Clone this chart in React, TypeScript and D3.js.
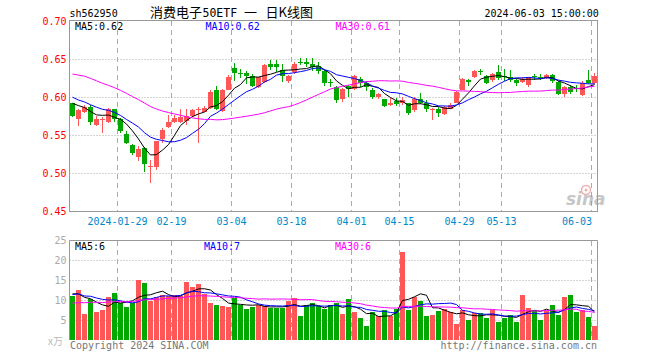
import React from "react";
import * as d3 from "d3";

// ---- data ----
const dates = [
  "2024-01-17","2024-01-18","2024-01-19","2024-01-22","2024-01-23","2024-01-24","2024-01-25","2024-01-26",
  "2024-01-29","2024-01-30","2024-01-31","2024-02-01","2024-02-02","2024-02-05","2024-02-06","2024-02-07","2024-02-08",
  "2024-02-19","2024-02-20","2024-02-21","2024-02-22","2024-02-23","2024-02-26","2024-02-27","2024-02-28","2024-02-29","2024-03-01",
  "2024-03-04","2024-03-05","2024-03-06","2024-03-07","2024-03-08","2024-03-11","2024-03-12","2024-03-13","2024-03-14","2024-03-15",
  "2024-03-18","2024-03-19","2024-03-20","2024-03-21","2024-03-22","2024-03-25","2024-03-26","2024-03-27","2024-03-28","2024-03-29",
  "2024-04-01","2024-04-02","2024-04-03","2024-04-08","2024-04-09","2024-04-10","2024-04-11","2024-04-12",
  "2024-04-15","2024-04-16","2024-04-17","2024-04-18","2024-04-19","2024-04-22","2024-04-23","2024-04-24","2024-04-25","2024-04-26",
  "2024-04-29","2024-04-30","2024-05-06","2024-05-07","2024-05-08","2024-05-09","2024-05-10",
  "2024-05-13","2024-05-14","2024-05-15","2024-05-16","2024-05-17","2024-05-20","2024-05-21","2024-05-22","2024-05-23","2024-05-24",
  "2024-05-27","2024-05-28","2024-05-29","2024-05-30","2024-05-31","2024-06-03",
];

const opens = [
  0.592,0.572,0.580,0.587,0.564,0.571,0.567,0.584,0.571,0.552,0.537,0.522,0.533,0.508,0.508,0.545,0.561,
  0.567,0.568,0.569,0.575,0.584,0.581,0.586,0.609,0.582,0.610,0.638,0.632,0.632,0.628,0.614,0.620,0.644,
  0.643,0.636,0.621,0.633,0.646,0.646,0.644,0.641,0.634,0.620,0.614,0.598,0.615,0.611,0.624,0.619,0.610,
  0.600,0.597,0.590,0.595,0.593,0.592,0.583,0.598,0.592,0.583,0.585,0.578,0.585,0.593,0.610,0.623,0.626,
  0.635,0.628,0.622,0.633,0.628,0.626,0.623,0.620,0.616,0.628,0.626,0.625,0.629,0.620,0.604,0.614,0.612,
  0.603,0.622,0.619,
];
const highs = [
  0.593,0.584,0.590,0.590,0.575,0.574,0.586,0.585,0.573,0.556,0.539,0.536,0.535,0.517,0.543,0.559,0.577,
  0.577,0.584,0.584,0.585,0.587,0.589,0.609,0.615,0.611,0.629,0.645,0.637,0.635,0.631,0.627,0.643,0.649,
  0.649,0.644,0.629,0.646,0.652,0.651,0.651,0.646,0.636,0.624,0.615,0.612,0.616,0.629,0.626,0.621,0.612,
  0.606,0.598,0.599,0.599,0.600,0.593,0.600,0.605,0.596,0.586,0.587,0.589,0.592,0.608,0.625,0.624,0.636,
  0.637,0.629,0.632,0.642,0.637,0.636,0.624,0.626,0.627,0.630,0.630,0.631,0.630,0.621,0.615,0.616,0.616,
  0.621,0.636,0.632,
];
const lows = [
  0.574,0.562,0.579,0.563,0.562,0.553,0.566,0.568,0.553,0.538,0.524,0.516,0.502,0.488,0.504,0.540,0.560,
  0.566,0.566,0.563,0.574,0.540,0.580,0.584,0.583,0.581,0.609,0.621,0.625,0.617,0.613,0.612,0.619,0.636,
  0.633,0.620,0.618,0.631,0.642,0.639,0.635,0.631,0.615,0.613,0.593,0.594,0.600,0.610,0.613,0.608,0.597,
  0.597,0.587,0.588,0.589,0.590,0.577,0.580,0.591,0.580,0.570,0.574,0.576,0.584,0.592,0.609,0.615,0.625,
  0.629,0.617,0.620,0.623,0.621,0.620,0.615,0.618,0.614,0.623,0.623,0.624,0.619,0.603,0.600,0.604,0.607,
  0.601,0.617,0.617,
];
const closes = [
  0.575,0.583,0.587,0.568,0.571,0.572,0.585,0.572,0.555,0.540,0.527,0.532,0.512,0.510,0.542,0.557,0.568,
  0.573,0.574,0.575,0.583,0.585,0.586,0.607,0.584,0.609,0.627,0.632,0.631,0.628,0.615,0.626,0.642,0.640,
  0.640,0.628,0.628,0.644,0.645,0.643,0.640,0.634,0.618,0.619,0.596,0.611,0.611,0.628,0.619,0.613,0.600,
  0.604,0.588,0.593,0.591,0.596,0.579,0.598,0.593,0.585,0.584,0.579,0.587,0.590,0.607,0.624,0.620,0.634,
  0.634,0.619,0.630,0.625,0.627,0.623,0.618,0.624,0.626,0.627,0.625,0.629,0.621,0.604,0.614,0.607,0.611,
  0.619,0.618,0.628,
];
// volumes in 万
const volumes = [
  11.0,12.5,6.6,10.3,7.1,7.6,10.8,11.7,9.3,8.2,9.3,15.2,14.2,9.9,10.8,11.2,11.0,11.4,11.0,14.5,13.3,14.0,
  11.6,9.4,8.7,8.5,8.2,10.6,8.8,7.9,8.2,8.8,8.5,8.1,8.1,8.1,9.7,10.6,6.0,8.9,9.2,8.5,7.8,8.9,
  9.2,6.6,10.2,7.1,5.6,3.6,7.1,6.1,7.6,6.0,7.8,22.1,7.6,10.8,9.7,6.0,6.4,7.4,7.9,7.1,4.1,7.6,5.0,6.8,
  6.8,5.5,7.5,4.5,5.5,6.4,4.5,11.2,8.0,7.2,5.1,7.2,8.7,6.4,10.9,11.2,7.0,7.6,5.7,3.6,
];
// sessions before the visible window (not drawn), estimated from where the MA lines start
const priorCloses = [
  0.625,0.630,0.655,0.665,0.670,0.668,0.662,0.660,0.658,0.655,0.652,0.648,0.645,0.640,0.636,0.630,0.625,
  0.628,0.632,0.628,0.620,0.612,0.605,0.603,0.600,0.598,0.600,0.594,0.593,
];
const priorVolumes = [
  7.5,8.0,6.8,7.2,9.0,8.5,7.8,8.8,9.5,7.0,8.2,8.6,7.9,9.2,8.0,7.6,8.4,9.0,8.3,8.0,
  10.5,12.0,11.0,11.5,11.0,12.5,11.0,12.0,11.5,
];

const tickDates = ["2024-01-29","2024-02-19","2024-03-04","2024-03-18","2024-04-01","2024-04-15","2024-04-29","2024-05-13","2024-06-03"];
const tickLabels = ["2024-01-29","02-19","03-04","03-18","04-01","04-15","04-29","05-13","06-03"];
const priceTicks = [0.70, 0.65, 0.60, 0.55, 0.50, 0.45];
const priceGrid = [0.65, 0.60, 0.55, 0.50];
const volTicks = [25, 20, 15, 10, 5];
const volGrid = [20, 15, 10, 5];
const maPeriods = [5, 10, 30];
const maColors = ["#000000", "#0000ff", "#ff00ff"];
const priceMaLabels = ["MA5:0.62", "MA10:0.62", "MA30:0.61"];
const volMaLabels = ["MA5:6", "MA10:7", "MA30:6"];

const RED = "#ff5757";
const GREEN = "#00a800";
const MONO = "'DejaVu Sans Mono', 'Liberation Mono', monospace";
const CJK = "'Noto Sans CJK SC', sans-serif";

function movingAvg(series: number[], prior: number[], n: number): number[] {
  const full = prior.concat(series);
  return series.map((_, i) => {
    const end = prior.length + i;
    const slice = full.slice(end - n + 1, end + 1);
    return d3.mean(slice) as number;
  });
}

export default function App() {
  const N = closes.length;
  const X0 = 70;
  const STEP = 6;
  const xs = d3.scaleLinear().domain([0, N - 1]).range([X0, X0 + STEP * (N - 1)]);
  const yP = d3.scaleLinear().domain([0.45, 0.7]).range([211.5, 21]);
  const yV = d3.scaleLinear().domain([0, 25]).range([340, 240.5]);
  const L = 69.5, R = 597.5;

  const priceMAs = maPeriods.map((p) => movingAvg(closes, priorCloses, p));
  const volMAs = maPeriods.map((p) => movingAvg(volumes, priorVolumes, p));
  const lineP = d3.line<number>().x((_, i) => xs(i) + 2.5).y((d) => yP(d));
  const lineV = d3.line<number>().x((_, i) => xs(i) + 2.5).y((d) => yV(d));

  const tickIdx = tickDates.map((d) => dates.indexOf(d));

  return (
    <svg width={660} height={360} style={{ position: "fixed", left: 0, top: 0, background: "#fff" }}
      fontFamily={MONO}>
      <rect x={0} y={0} width={660} height={360} fill="#fff" />
      {/* header */}
      <text x={69.5} y={16.5} fontSize={10} fill="#000">sh562950</text>
      <text y={17} fontSize={13} fill="#000" fontFamily={CJK}>
        <tspan x={150}>消费电子</tspan>
        <tspan x={202.5} fontFamily={MONO} fontSize={11.5}>50ETF</tspan>
        <tspan x={244}>一</tspan>
        <tspan x={265.5}>日K线图</tspan>
      </text>
      <text x={484.5} y={16.5} fontSize={10} fill="#000">2024-06-03 15:00:00</text>

      {/* grids */}
      {priceGrid.map((p) => (
        <line key={"pg" + p} x1={L} x2={R} y1={Math.round(yP(p)) + 0.5} y2={Math.round(yP(p)) + 0.5}
          stroke="#aaa" strokeDasharray="1,2" />
      ))}
      {volGrid.map((v) => (
        <line key={"vg" + v} x1={L} x2={R} y1={Math.round(yV(v)) + 0.5} y2={Math.round(yV(v)) + 0.5}
          stroke="#aaa" strokeDasharray="1,2" />
      ))}
      {tickIdx.map((i, k) => (
        <g key={"vt" + k}>
          <line x1={xs(i) - 0.5} x2={xs(i) - 0.5} y1={21} y2={211} stroke="#aaa" strokeDasharray="5,4" />
          <line x1={xs(i) - 0.5} x2={xs(i) - 0.5} y1={241} y2={340} stroke="#aaa" strokeDasharray="5,4" />
        </g>
      ))}

      {/* volume bars */}
      {volumes.map((v, i) => {
        const up = closes[i] >= opens[i];
        const y = Math.round(yV(v));
        return <rect key={"v" + i} x={xs(i)} y={y} width={5} height={340 - y} fill={up ? RED : GREEN} />;
      })}

      {/* candles */}
      {closes.map((c, i) => {
        const o = opens[i];
        const up = c >= o;
        const col = up ? RED : GREEN;
        const yt = Math.round(yP(Math.max(o, c)));
        const yb = Math.round(yP(Math.min(o, c)));
        const x = xs(i);
        return (
          <g key={"c" + i}>
            <line x1={x + 2.5} x2={x + 2.5} y1={Math.round(yP(highs[i]))} y2={Math.round(yP(lows[i]))} stroke={col} strokeWidth={1} />
            <rect x={x} y={yt} width={5} height={Math.max(1, yb - yt)} fill={col} />
          </g>
        );
      })}

      {/* MA lines */}
      {priceMAs.map((m, k) => (
        <path key={"pm" + k} d={lineP(m) as string} fill="none" stroke={maColors[k]} strokeWidth={1} />
      ))}
      {volMAs.map((m, k) => (
        <path key={"vm" + k} d={lineV(m) as string} fill="none" stroke={maColors[k]} strokeWidth={1} />
      ))}

      {/* frames */}
      <rect x={L} y={20.5} width={R - L} height={191} fill="none" stroke="#999" />
      <path d={`M${L},340 V240.5 H${R} V340`} fill="none" stroke="#999" />

      {/* price axis labels */}
      {priceTicks.map((p) => (
        <text key={"pt" + p} x={66.5} y={yP(p) + 3.8} fontSize={10} fill="#ff0000" textAnchor="end">{p.toFixed(2)}</text>
      ))}
      {/* volume axis labels */}
      {volTicks.map((v) => (
        <text key={"vl" + v} x={66.5} y={yV(v) + 3.8} fontSize={10} fill="#aaa" textAnchor="end">{v}</text>
      ))}
      <text x={48} y={345} fontSize={10} fill="#bbb" fontFamily={CJK}>x万</text>

      {/* date labels */}
      {tickIdx.map((i, k) => {
        const w = tickLabels[k].length * 6.02;
        const cx = Math.min(xs(i) - 0.5, 592 - w / 2);
        return (
          <text key={"dl" + k} x={cx} y={225} fontSize={10} fill="#0088cc" textAnchor="middle">{tickLabels[k]}</text>
        );
      })}

      {/* MA legends */}
      {priceMaLabels.map((t, k) => (
        <text key={"pml" + k} x={[75, 205.5, 335.5][k]} y={30} fontSize={10} fill={maColors[k]}>{t}</text>
      ))}
      {volMaLabels.map((t, k) => (
        <text key={"vml" + k} x={[75, 204, 335][k]} y={250} fontSize={10} fill={maColors[k]}>{t}</text>
      ))}

      {/* watermark */}
      <g opacity={0.55}>
        <circle cx={586} cy={190} r={4.5} fill="none" stroke="#e07070" strokeWidth={1.5} />
        <circle cx={586} cy={190} r={1.5} fill="#e07070" />
        <text x={566} y={205} fontSize={17} fontStyle="italic" fontWeight="bold" fill="#999"
          fontFamily="'DejaVu Sans', sans-serif">sina</text>
      </g>

      {/* footer */}
      <text x={70} y={348.5} fontSize={10} fill="#777">Copyright 2024 SINA.COM</text>
      <text x={597} y={348.5} fontSize={10} fill="#777" textAnchor="end">http://finance.sina.com.cn</text>
    </svg>
  );
}
